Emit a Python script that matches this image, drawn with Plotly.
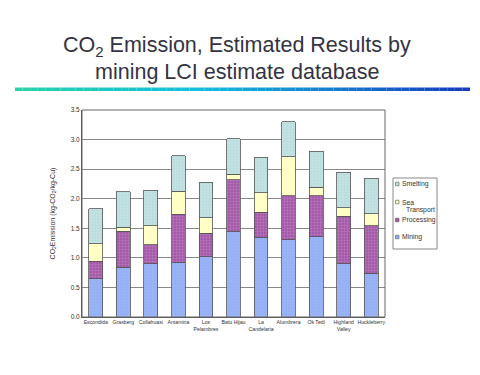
import plotly.graph_objects as go

categories = ["Escondida", "Grasberg", "Collahuasi", "Antamina", "Los<br>Pelambres", "Batu Hijau",
              "La<br>Candelaria", "Alumbrera", "Ok Tedi", "Highland<br>Valley", "Huckleberry"]
mining = [0.65, 0.84, 0.90, 0.93, 1.02, 1.44, 1.35, 1.31, 1.36, 0.90, 0.74]
processing = [0.29, 0.61, 0.32, 0.81, 0.40, 0.88, 0.42, 0.74, 0.69, 0.80, 0.80]
sea_transport = [0.30, 0.07, 0.32, 0.39, 0.26, 0.09, 0.33, 0.66, 0.14, 0.15, 0.21]
smelting = [0.59, 0.60, 0.60, 0.60, 0.60, 0.60, 0.60, 0.59, 0.61, 0.60, 0.60]
y_ticks = [0.0, 0.5, 1.0, 1.5, 2.0, 2.5, 3.0, 3.5]
legend_names = ["Smelting", "Sea Transport", "Processing", "Mining"]

OFF = 8  # page body margin
FW, FH = 480 - OFF, 375 - OFF
# plot area in screen pixels
L, R, T, B = 82, 385, 110, 317
W, H = R - L, B - T


def px(x):
    return (x - L) / W


def py(y):
    return (B - y) / H


fig = go.Figure()
line = dict(color="#555555", width=0.8)
styles = {
    "Mining": dict(color="#96b0f6", line=line,
                   pattern=dict(shape="+", size=3, solidity=0.15, fgcolor="#b8ccfa")),
    "Processing": dict(color="#a45aa8", line=line,
                       pattern=dict(shape="+", size=3, solidity=0.25, fgcolor="#d8a8dc")),
    "Sea Transport": dict(color="#ffffc6", line=line),
    "Smelting": dict(color="#c4e2e2", line=line,
                     pattern=dict(shape="+", size=3, solidity=0.25, fgcolor="#9ccccc")),
}
for name, vals in [("Mining", mining), ("Processing", processing),
                   ("Sea Transport", sea_transport), ("Smelting", smelting)]:
    fig.add_bar(x=categories, y=vals, name=name, marker=styles[name], showlegend=False)

shapes = []
# gradient rule under title
n = 60
x0, x1 = 15, 470
c0 = (40, 210, 170)
c1 = (20, 190, 225)
c2 = (20, 60, 190)
for i in range(n):
    t = i / (n - 1)
    if t < 0.4:
        u = t / 0.4
        c = tuple(int(c0[k] + (c1[k] - c0[k]) * u) for k in range(3))
    else:
        u = (t - 0.4) / 0.6
        c = tuple(int(c1[k] + (c2[k] - c1[k]) * u) for k in range(3))
    xa = x0 + (x1 - x0) * i / n
    xb = x0 + (x1 - x0) * (i + 1) / n
    shapes.append(dict(type="rect", xref="paper", yref="paper",
                       x0=px(xa), x1=px(xb), y0=py(91), y1=py(87.5),
                       line=dict(width=0), fillcolor="rgb(%d,%d,%d)" % c))
# plot border
shapes.append(dict(type="rect", xref="paper", yref="paper", x0=0, x1=1, y0=0, y1=1,
                   line=dict(color="#666666", width=1)))

# manual legend
annotations = []
shapes.append(dict(type="rect", xref="paper", yref="paper", x0=px(393), x1=px(437),
                   y0=py(249), y1=py(178), line=dict(color="#888888", width=1),
                   fillcolor="white"))
legend_y = [184, 202, 220, 237]
for name, yy in zip(legend_names, legend_y):
    st = styles[name]
    shapes.append(dict(type="rect", xref="paper", yref="paper", x0=px(395.5), x1=px(399),
                       y0=py(yy + 1.75), y1=py(yy - 1.75),
                       line=dict(color="#555555", width=0.6), fillcolor=st["color"]))
    for k, part in enumerate(name.split(" ")):
        annotations.append(dict(text=part, xref="paper", yref="paper",
                                x=px(400 + (3.5 if k else 0)),
                                y=py(yy + 7.5 * k), xanchor="left", yanchor="middle",
                                showarrow=False, font=dict(size=6.8, color="#333333")))

annotations += [
    dict(text="CO<sub>2</sub> Emission, Estimated Results by", xref="paper", yref="paper",
         x=px(237), y=py(47), xanchor="center", yanchor="middle",
         showarrow=False, font=dict(size=21.5, color="#333344")),
    dict(text="mining LCI estimate database", xref="paper", yref="paper",
         x=px(237), y=py(72), xanchor="center", yanchor="middle",
         showarrow=False, font=dict(size=21.5, color="#333344")),
]

fig.update_layout(
    width=FW, height=FH,
    barmode="stack", bargap=0.5,
    paper_bgcolor="white", plot_bgcolor="white",
    margin=dict(l=L - OFF, r=FW - (R - OFF), t=T - OFF, b=FH - (B - OFF), autoexpand=False),
    font=dict(family="Liberation Sans, Arial, sans-serif", color="#333333"),
    shapes=shapes,
    annotations=annotations,
    showlegend=False,
)
fig.update_yaxes(range=[0, 3.5], tickvals=y_ticks, ticktext=["%.1f" % v for v in y_ticks],
                 showgrid=True, gridcolor="#888888", gridwidth=1,
                 tickfont=dict(size=6.5), ticks="", zeroline=False, automargin=False,
                 showline=True, linecolor="#555555",
                 title=dict(text="CO<sub>2</sub>Emission (kg-CO<sub>2</sub>/kg-Cu)",
                            font=dict(size=7), standoff=14))
fig.update_xaxes(tickfont=dict(size=5.2), tickangle=0, automargin=False,
                 showline=True, linecolor="#555555", ticks="")

fig.write_html("out.html")
